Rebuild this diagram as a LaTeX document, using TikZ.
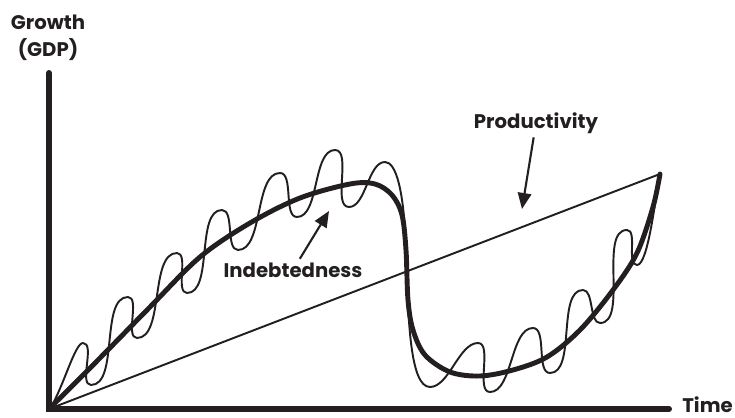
\documentclass[tikz,border=0pt]{standalone}
\usepackage{fontspec}
\setsansfont{Poppins}
\usetikzlibrary{arrows.meta}
\definecolor{ink}{RGB}{35,31,32}

\begin{document}
\begin{tikzpicture}[x=0.02cm, y=-0.02cm, ink,
    lbl/.style={font=\sffamily\bfseries\fontsize{11.2}{15.5}\selectfont, inner sep=2pt},
    axis/.style={line width=3.4pt, line cap=round},
    trend/.style={line width=2.8pt, line cap=round, line join=round},
    wave/.style={line width=1.1pt, line join=round, out=0, in=180, looseness=0.75},
    ptr/.style={line width=1.2pt, -{Triangle[length=0.32cm, width=0.27cm]}}]
                \useasboundingbox (0,0) rectangle (735,418);

                % Axes
                \coordinate (ytop) at (49,73);
                \coordinate (orig) at (49,409);
                \coordinate (xend) at (669,409);
                \draw[axis] (ytop) -- (orig) -- (xend);
                \node[lbl, align=center] (growth) at (48,38) {Growth\\(GDP)};
                \node[lbl, anchor=west, inner sep=0pt] (time) at (682,405) {Time};

                % Productivity trend
                \coordinate (pend) at (660,174);
                \draw[wave] (orig) -- (pend);

                % Indebtedness, smooth
                \draw[trend] plot[smooth, tension=0.55] coordinates {
                    (51,407) (100,358) (150,307) (200,257) (250,223) (300,198)
                    (350,184) (375,184) (392,195) (402,215) (406,250) (408,300)
                    (413,330) (425,355) (450,372) (480,376) (513,370) (547,357)
                    (580,330) (613,290) (637,253) (653,207) (660,174)};

                % Indebtedness, cycles
                \draw[wave] (51,407) .. controls (64,385) and (75,343) .. (83,343)
                    to (91,385) to (128,297) to (137,338) to (177,253)
                    to (187,293) to (222,210) to (238,250) to (280,173)
                    to (297,217) to (335,150) to (349,207) to (385,162)
                    .. controls (396,162) and (404,190) .. (406,250)
                    .. controls (408,320) and (410,387) .. (430,387)
                    to (478,343) to (490,392) to (533,328) to (550,373)
                    to (583,290) to (600,323) to (627,230) to (637,265)
                    .. controls (648,265) and (655,200) .. (660,174);

                % Annotations
                \node[lbl] (prod) at (536,123) {Productivity};
                \coordinate (prodtip) at (522,209);
                \draw[ptr] (prod) -- (prodtip);
                \node[lbl] (indebt) at (293,270) {Indebtedness};
                \coordinate (indebttip) at (329,211);
                \draw[ptr] (indebt) -- (indebttip);
\end{tikzpicture}
\end{document}
